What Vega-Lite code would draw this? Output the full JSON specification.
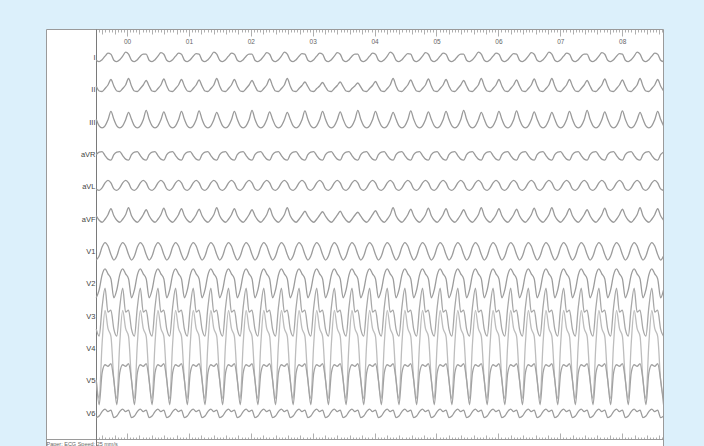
{
"$schema": "https://vega.github.io/schema/vega-lite/v6.json",
"autosize": "none",
"width": 617,
"height": 420,
"padding": {"left": 46, "top": 29, "right": 41, "bottom": 0},
"background": "#dcf0fb",
"config": {"view": {"fill": "white", "stroke": "#9a9a9a", "strokeWidth": 1}, "axis": {"labelFont": "Liberation Sans", "titleFont": "Liberation Sans"}},
"layer": [
{
"data": {"values": [
{"t":-0.4985,"I":-0.25,"II":0.4,"III":0.3,"aVR":0,"aVL":-0.2,"aVF":0.35,"V1":-0.85,"V2":-1.4,"V3":-1.3,"V4":-3.2,"V5":0.1,"V6":-0.45},
{"t":-0.451,"I":-0.4,"II":-0.1,"III":-0.35,"aVR":0.25,"aVL":-0.35,"aVF":-0.1,"V1":-0.45,"V2":-0.6,"V3":-2,"V4":-5,"V5":-2.4,"V6":-0.3},
{"t":-0.4035,"I":-0.2,"II":-0.15,"III":-0.55,"aVR":0.3,"aVL":-0.1,"aVF":-0.3,"V1":0.45,"V2":0.9,"V3":0.9,"V4":0.5,"V5":0.8,"V6":0.15},
{"t":-0.356,"I":0.15,"II":0.15,"III":-0.35,"aVR":-0.1,"aVL":0.4,"aVF":0,"V1":0.9,"V2":1.5,"V3":2.8,"V4":3.8,"V5":1.6,"V6":0.4},
{"t":-0.3085,"I":0.45,"II":0.5,"III":0.25,"aVR":-0.45,"aVL":0.65,"aVF":0.45,"V1":0.55,"V2":1,"V3":0.4,"V4":2,"V5":1.45,"V6":0.15},
{"t":-0.261,"I":0.35,"II":1.05,"III":1.1,"aVR":-0.55,"aVL":0.4,"aVF":1.05,"V1":-0.3,"V2":0.5,"V3":0.6,"V4":1.2,"V5":1.7,"V6":0.3},
{"t":-0.2135,"I":-0.25,"II":0.4,"III":0.3,"aVR":0,"aVL":-0.2,"aVF":0.35,"V1":-0.85,"V2":-1.4,"V3":-1.3,"V4":-3.2,"V5":0.1,"V6":-0.45},
{"t":-0.166,"I":-0.4,"II":-0.1,"III":-0.35,"aVR":0.25,"aVL":-0.35,"aVF":-0.1,"V1":-0.45,"V2":-0.6,"V3":-2,"V4":-5,"V5":-2.4,"V6":-0.3},
{"t":-0.1185,"I":-0.2,"II":-0.15,"III":-0.55,"aVR":0.3,"aVL":-0.1,"aVF":-0.3,"V1":0.45,"V2":0.9,"V3":0.9,"V4":0.5,"V5":0.8,"V6":0.15},
{"t":-0.071,"I":0.15,"II":0.15,"III":-0.35,"aVR":-0.1,"aVL":0.4,"aVF":0,"V1":0.9,"V2":1.5,"V3":2.8,"V4":3.8,"V5":1.6,"V6":0.4},
{"t":-0.0235,"I":0.55,"II":0.5,"III":0.25,"aVR":-0.45,"aVL":0.65,"aVF":0.45,"V1":0.55,"V2":1,"V3":0.4,"V4":2,"V5":1.45,"V6":0.15},
{"t":0.024,"I":0.35,"II":1.15,"III":1.0,"aVR":-0.55,"aVL":0.4,"aVF":1.15,"V1":-0.3,"V2":0.5,"V3":0.6,"V4":1.2,"V5":1.7,"V6":0.3},
{"t":0.0715,"I":-0.25,"II":0.4,"III":0.3,"aVR":0,"aVL":-0.2,"aVF":0.35,"V1":-0.85,"V2":-1.4,"V3":-1.3,"V4":-3.2,"V5":0.1,"V6":-0.45},
{"t":0.119,"I":-0.4,"II":-0.1,"III":-0.35,"aVR":0.25,"aVL":-0.35,"aVF":-0.1,"V1":-0.45,"V2":-0.6,"V3":-2,"V4":-5,"V5":-2.4,"V6":-0.3},
{"t":0.1665,"I":-0.2,"II":-0.15,"III":-0.55,"aVR":0.3,"aVL":-0.1,"aVF":-0.3,"V1":0.45,"V2":0.9,"V3":0.9,"V4":0.5,"V5":0.8,"V6":0.15},
{"t":0.214,"I":0.15,"II":0.15,"III":-0.35,"aVR":-0.1,"aVL":0.4,"aVF":0,"V1":0.9,"V2":1.5,"V3":2.8,"V4":3.8,"V5":1.6,"V6":0.4},
{"t":0.2615,"I":0.35,"II":0.5,"III":0.25,"aVR":-0.45,"aVL":0.65,"aVF":0.45,"V1":0.55,"V2":1,"V3":0.4,"V4":2,"V5":1.45,"V6":0.15},
{"t":0.309,"I":0.35,"II":0.95,"III":1.2,"aVR":-0.55,"aVL":0.4,"aVF":0.95,"V1":-0.3,"V2":0.5,"V3":0.6,"V4":1.2,"V5":1.7,"V6":0.3},
{"t":0.3565,"I":-0.25,"II":0.4,"III":0.3,"aVR":0,"aVL":-0.2,"aVF":0.35,"V1":-0.85,"V2":-1.4,"V3":-1.3,"V4":-3.2,"V5":0.1,"V6":-0.45},
{"t":0.404,"I":-0.4,"II":-0.1,"III":-0.35,"aVR":0.25,"aVL":-0.35,"aVF":-0.1,"V1":-0.45,"V2":-0.6,"V3":-2,"V4":-5,"V5":-2.4,"V6":-0.3},
{"t":0.4515,"I":-0.2,"II":-0.15,"III":-0.55,"aVR":0.3,"aVL":-0.1,"aVF":-0.3,"V1":0.45,"V2":0.9,"V3":0.9,"V4":0.5,"V5":0.8,"V6":0.15},
{"t":0.499,"I":0.15,"II":0.15,"III":-0.35,"aVR":-0.1,"aVL":0.4,"aVF":0,"V1":0.9,"V2":1.5,"V3":2.8,"V4":3.8,"V5":1.6,"V6":0.4},
{"t":0.5465,"I":0.5,"II":0.5,"III":0.25,"aVR":-0.45,"aVL":0.65,"aVF":0.45,"V1":0.55,"V2":1,"V3":0.4,"V4":2,"V5":1.45,"V6":0.15},
{"t":0.594,"I":0.35,"II":1.1,"III":1.05,"aVR":-0.55,"aVL":0.4,"aVF":1.1,"V1":-0.3,"V2":0.5,"V3":0.6,"V4":1.2,"V5":1.7,"V6":0.3},
{"t":0.6415,"I":-0.25,"II":0.4,"III":0.3,"aVR":0,"aVL":-0.2,"aVF":0.35,"V1":-0.85,"V2":-1.4,"V3":-1.3,"V4":-3.2,"V5":0.1,"V6":-0.45},
{"t":0.689,"I":-0.4,"II":-0.1,"III":-0.35,"aVR":0.25,"aVL":-0.35,"aVF":-0.1,"V1":-0.45,"V2":-0.6,"V3":-2,"V4":-5,"V5":-2.4,"V6":-0.3},
{"t":0.7365,"I":-0.2,"II":-0.15,"III":-0.55,"aVR":0.3,"aVL":-0.1,"aVF":-0.3,"V1":0.45,"V2":0.9,"V3":0.9,"V4":0.5,"V5":0.8,"V6":0.15},
{"t":0.784,"I":0.15,"II":0.15,"III":-0.35,"aVR":-0.1,"aVL":0.4,"aVF":0,"V1":0.9,"V2":1.5,"V3":2.8,"V4":3.8,"V5":1.6,"V6":0.4},
{"t":0.8315,"I":0.45,"II":0.5,"III":0.25,"aVR":-0.45,"aVL":0.65,"aVF":0.45,"V1":0.55,"V2":1,"V3":0.4,"V4":2,"V5":1.45,"V6":0.15},
{"t":0.879,"I":0.35,"II":1.05,"III":1.1,"aVR":-0.55,"aVL":0.4,"aVF":1.05,"V1":-0.3,"V2":0.5,"V3":0.6,"V4":1.2,"V5":1.7,"V6":0.3},
{"t":0.9265,"I":-0.25,"II":0.4,"III":0.3,"aVR":0,"aVL":-0.2,"aVF":0.35,"V1":-0.85,"V2":-1.4,"V3":-1.3,"V4":-3.2,"V5":0.1,"V6":-0.45},
{"t":0.974,"I":-0.4,"II":-0.1,"III":-0.35,"aVR":0.25,"aVL":-0.35,"aVF":-0.1,"V1":-0.45,"V2":-0.6,"V3":-2,"V4":-5,"V5":-2.4,"V6":-0.3},
{"t":1.0215,"I":-0.2,"II":-0.15,"III":-0.55,"aVR":0.3,"aVL":-0.1,"aVF":-0.3,"V1":0.45,"V2":0.9,"V3":0.9,"V4":0.5,"V5":0.8,"V6":0.15},
{"t":1.069,"I":0.15,"II":0.15,"III":-0.35,"aVR":-0.1,"aVL":0.4,"aVF":0,"V1":0.9,"V2":1.5,"V3":2.8,"V4":3.8,"V5":1.6,"V6":0.4},
{"t":1.1165,"I":0.4,"II":0.5,"III":0.25,"aVR":-0.45,"aVL":0.65,"aVF":0.45,"V1":0.55,"V2":1,"V3":0.4,"V4":2,"V5":1.45,"V6":0.15},
{"t":1.164,"I":0.35,"II":1.0,"III":1.15,"aVR":-0.55,"aVL":0.4,"aVF":1.0,"V1":-0.3,"V2":0.5,"V3":0.6,"V4":1.2,"V5":1.7,"V6":0.3},
{"t":1.2115,"I":-0.25,"II":0.4,"III":0.3,"aVR":0,"aVL":-0.2,"aVF":0.35,"V1":-0.85,"V2":-1.4,"V3":-1.3,"V4":-3.2,"V5":0.1,"V6":-0.45},
{"t":1.259,"I":-0.4,"II":-0.1,"III":-0.35,"aVR":0.25,"aVL":-0.35,"aVF":-0.1,"V1":-0.45,"V2":-0.6,"V3":-2,"V4":-5,"V5":-2.4,"V6":-0.3},
{"t":1.3065,"I":-0.2,"II":-0.15,"III":-0.55,"aVR":0.3,"aVL":-0.1,"aVF":-0.3,"V1":0.45,"V2":0.9,"V3":0.9,"V4":0.5,"V5":0.8,"V6":0.15},
{"t":1.354,"I":0.15,"II":0.15,"III":-0.35,"aVR":-0.1,"aVL":0.4,"aVF":0,"V1":0.9,"V2":1.5,"V3":2.8,"V4":3.8,"V5":1.6,"V6":0.4},
{"t":1.4015,"I":0.55,"II":0.5,"III":0.25,"aVR":-0.45,"aVL":0.65,"aVF":0.45,"V1":0.55,"V2":1,"V3":0.4,"V4":2,"V5":1.45,"V6":0.15},
{"t":1.449,"I":0.35,"II":1.15,"III":1.0,"aVR":-0.55,"aVL":0.4,"aVF":1.15,"V1":-0.3,"V2":0.5,"V3":0.6,"V4":1.2,"V5":1.7,"V6":0.3},
{"t":1.4965,"I":-0.25,"II":0.4,"III":0.3,"aVR":0,"aVL":-0.2,"aVF":0.35,"V1":-0.85,"V2":-1.4,"V3":-1.3,"V4":-3.2,"V5":0.1,"V6":-0.45},
{"t":1.544,"I":-0.4,"II":-0.1,"III":-0.35,"aVR":0.25,"aVL":-0.35,"aVF":-0.1,"V1":-0.45,"V2":-0.6,"V3":-2,"V4":-5,"V5":-2.4,"V6":-0.3},
{"t":1.5915,"I":-0.2,"II":-0.15,"III":-0.55,"aVR":0.3,"aVL":-0.1,"aVF":-0.3,"V1":0.45,"V2":0.9,"V3":0.9,"V4":0.5,"V5":0.8,"V6":0.15},
{"t":1.639,"I":0.15,"II":0.15,"III":-0.35,"aVR":-0.1,"aVL":0.4,"aVF":0,"V1":0.9,"V2":1.5,"V3":2.8,"V4":3.8,"V5":1.6,"V6":0.4},
{"t":1.6865,"I":0.45,"II":0.5,"III":0.25,"aVR":-0.45,"aVL":0.65,"aVF":0.45,"V1":0.55,"V2":1,"V3":0.4,"V4":2,"V5":1.45,"V6":0.15},
{"t":1.734,"I":0.35,"II":1.05,"III":1.1,"aVR":-0.55,"aVL":0.4,"aVF":1.05,"V1":-0.3,"V2":0.5,"V3":0.6,"V4":1.2,"V5":1.7,"V6":0.3},
{"t":1.7815,"I":-0.25,"II":0.4,"III":0.3,"aVR":0,"aVL":-0.2,"aVF":0.35,"V1":-0.85,"V2":-1.4,"V3":-1.3,"V4":-3.2,"V5":0.1,"V6":-0.45},
{"t":1.829,"I":-0.4,"II":-0.1,"III":-0.35,"aVR":0.25,"aVL":-0.35,"aVF":-0.1,"V1":-0.45,"V2":-0.6,"V3":-2,"V4":-5,"V5":-2.4,"V6":-0.3},
{"t":1.8765,"I":-0.2,"II":-0.15,"III":-0.55,"aVR":0.3,"aVL":-0.1,"aVF":-0.3,"V1":0.45,"V2":0.9,"V3":0.9,"V4":0.5,"V5":0.8,"V6":0.15},
{"t":1.924,"I":0.15,"II":0.15,"III":-0.35,"aVR":-0.1,"aVL":0.4,"aVF":0,"V1":0.9,"V2":1.5,"V3":2.8,"V4":3.8,"V5":1.6,"V6":0.4},
{"t":1.9715,"I":0.35,"II":0.5,"III":0.25,"aVR":-0.45,"aVL":0.65,"aVF":0.45,"V1":0.55,"V2":1,"V3":0.4,"V4":2,"V5":1.45,"V6":0.15},
{"t":2.019,"I":0.35,"II":0.95,"III":1.2,"aVR":-0.55,"aVL":0.4,"aVF":0.95,"V1":-0.3,"V2":0.5,"V3":0.6,"V4":1.2,"V5":1.7,"V6":0.3},
{"t":2.0665,"I":-0.25,"II":0.4,"III":0.3,"aVR":0,"aVL":-0.2,"aVF":0.35,"V1":-0.85,"V2":-1.4,"V3":-1.3,"V4":-3.2,"V5":0.1,"V6":-0.45},
{"t":2.114,"I":-0.4,"II":-0.1,"III":-0.35,"aVR":0.25,"aVL":-0.35,"aVF":-0.1,"V1":-0.45,"V2":-0.6,"V3":-2,"V4":-5,"V5":-2.4,"V6":-0.3},
{"t":2.1615,"I":-0.2,"II":-0.15,"III":-0.55,"aVR":0.3,"aVL":-0.1,"aVF":-0.3,"V1":0.45,"V2":0.9,"V3":0.9,"V4":0.5,"V5":0.8,"V6":0.15},
{"t":2.209,"I":0.15,"II":0.15,"III":-0.35,"aVR":-0.1,"aVL":0.4,"aVF":0,"V1":0.9,"V2":1.5,"V3":2.8,"V4":3.8,"V5":1.6,"V6":0.4},
{"t":2.2565,"I":0.5,"II":0.5,"III":0.25,"aVR":-0.45,"aVL":0.65,"aVF":0.45,"V1":0.55,"V2":1,"V3":0.4,"V4":2,"V5":1.45,"V6":0.15},
{"t":2.304,"I":0.35,"II":1.1,"III":1.05,"aVR":-0.55,"aVL":0.4,"aVF":1.1,"V1":-0.3,"V2":0.5,"V3":0.6,"V4":1.2,"V5":1.7,"V6":0.3},
{"t":2.3515,"I":-0.25,"II":0.4,"III":0.3,"aVR":0,"aVL":-0.2,"aVF":0.35,"V1":-0.85,"V2":-1.4,"V3":-1.3,"V4":-3.2,"V5":0.1,"V6":-0.45},
{"t":2.399,"I":-0.4,"II":-0.1,"III":-0.35,"aVR":0.25,"aVL":-0.35,"aVF":-0.1,"V1":-0.45,"V2":-0.6,"V3":-2,"V4":-5,"V5":-2.4,"V6":-0.3},
{"t":2.4465,"I":-0.2,"II":-0.15,"III":-0.55,"aVR":0.3,"aVL":-0.1,"aVF":-0.3,"V1":0.45,"V2":0.9,"V3":0.9,"V4":0.5,"V5":0.8,"V6":0.15},
{"t":2.494,"I":0.15,"II":0.15,"III":-0.35,"aVR":-0.1,"aVL":0.4,"aVF":0,"V1":0.9,"V2":1.5,"V3":2.8,"V4":3.8,"V5":1.6,"V6":0.4},
{"t":2.5415,"I":0.55,"II":0.5,"III":0.25,"aVR":-0.45,"aVL":0.65,"aVF":0.45,"V1":0.55,"V2":1,"V3":0.4,"V4":2,"V5":1.45,"V6":0.15},
{"t":2.589,"I":0.35,"II":1.15,"III":1.0,"aVR":-0.55,"aVL":0.4,"aVF":1.15,"V1":-0.3,"V2":0.5,"V3":0.6,"V4":1.2,"V5":1.7,"V6":0.3},
{"t":2.6365,"I":-0.25,"II":0.4,"III":0.3,"aVR":0,"aVL":-0.2,"aVF":0.35,"V1":-0.85,"V2":-1.4,"V3":-1.3,"V4":-3.2,"V5":0.1,"V6":-0.45},
{"t":2.684,"I":-0.4,"II":-0.1,"III":-0.35,"aVR":0.25,"aVL":-0.35,"aVF":-0.1,"V1":-0.45,"V2":-0.6,"V3":-2,"V4":-5,"V5":-2.4,"V6":-0.3},
{"t":2.7315,"I":-0.2,"II":-0.15,"III":-0.55,"aVR":0.3,"aVL":-0.1,"aVF":-0.3,"V1":0.45,"V2":0.9,"V3":0.9,"V4":0.5,"V5":0.8,"V6":0.15},
{"t":2.779,"I":0.15,"II":0.15,"III":-0.35,"aVR":-0.1,"aVL":0.4,"aVF":0,"V1":0.9,"V2":1.5,"V3":2.8,"V4":3.8,"V5":1.6,"V6":0.4},
{"t":2.8265,"I":0.4,"II":0.45,"III":0.25,"aVR":-0.45,"aVL":0.65,"aVF":0.4,"V1":0.55,"V2":1,"V3":0.4,"V4":2,"V5":1.45,"V6":0.15},
{"t":2.874,"I":0.35,"II":0.8,"III":1.15,"aVR":-0.55,"aVL":0.4,"aVF":0.8,"V1":-0.3,"V2":0.5,"V3":0.6,"V4":1.2,"V5":1.7,"V6":0.3},
{"t":2.9215,"I":-0.25,"II":0.35,"III":0.3,"aVR":0,"aVL":-0.2,"aVF":0.3,"V1":-0.85,"V2":-1.4,"V3":-1.3,"V4":-3.2,"V5":0.1,"V6":-0.45},
{"t":2.969,"I":-0.4,"II":-0.1,"III":-0.35,"aVR":0.25,"aVL":-0.35,"aVF":-0.1,"V1":-0.45,"V2":-0.6,"V3":-2,"V4":-5,"V5":-2.4,"V6":-0.3},
{"t":3.0165,"I":-0.2,"II":-0.15,"III":-0.55,"aVR":0.3,"aVL":-0.1,"aVF":-0.3,"V1":0.45,"V2":0.9,"V3":0.9,"V4":0.5,"V5":0.8,"V6":0.15},
{"t":3.064,"I":0.15,"II":0.15,"III":-0.35,"aVR":-0.1,"aVL":0.4,"aVF":0,"V1":0.9,"V2":1.5,"V3":2.8,"V4":3.8,"V5":1.6,"V6":0.4},
{"t":3.1115,"I":0.45,"II":0.4,"III":0.25,"aVR":-0.45,"aVL":0.65,"aVF":0.4,"V1":0.55,"V2":1,"V3":0.4,"V4":2,"V5":1.45,"V6":0.15},
{"t":3.159,"I":0.35,"II":0.75,"III":1.1,"aVR":-0.55,"aVL":0.4,"aVF":0.75,"V1":-0.3,"V2":0.5,"V3":0.6,"V4":1.2,"V5":1.7,"V6":0.3},
{"t":3.2065,"I":-0.25,"II":0.3,"III":0.3,"aVR":0,"aVL":-0.2,"aVF":0.3,"V1":-0.85,"V2":-1.4,"V3":-1.3,"V4":-3.2,"V5":0.1,"V6":-0.45},
{"t":3.254,"I":-0.4,"II":-0.1,"III":-0.35,"aVR":0.25,"aVL":-0.35,"aVF":-0.1,"V1":-0.45,"V2":-0.6,"V3":-2,"V4":-5,"V5":-2.4,"V6":-0.3},
{"t":3.3015,"I":-0.2,"II":-0.15,"III":-0.55,"aVR":0.3,"aVL":-0.1,"aVF":-0.3,"V1":0.45,"V2":0.9,"V3":0.9,"V4":0.5,"V5":0.8,"V6":0.15},
{"t":3.349,"I":0.15,"II":0.15,"III":-0.35,"aVR":-0.1,"aVL":0.4,"aVF":0,"V1":0.9,"V2":1.5,"V3":2.8,"V4":3.8,"V5":1.6,"V6":0.4},
{"t":3.3965,"I":0.5,"II":0.45,"III":0.25,"aVR":-0.45,"aVL":0.65,"aVF":0.4,"V1":0.55,"V2":1,"V3":0.4,"V4":2,"V5":1.45,"V6":0.15},
{"t":3.444,"I":0.35,"II":0.8,"III":1.05,"aVR":-0.55,"aVL":0.4,"aVF":0.8,"V1":-0.3,"V2":0.5,"V3":0.6,"V4":1.2,"V5":1.7,"V6":0.3},
{"t":3.4915,"I":-0.25,"II":0.35,"III":0.3,"aVR":0,"aVL":-0.2,"aVF":0.3,"V1":-0.85,"V2":-1.4,"V3":-1.3,"V4":-3.2,"V5":0.1,"V6":-0.45},
{"t":3.539,"I":-0.4,"II":-0.1,"III":-0.35,"aVR":0.25,"aVL":-0.35,"aVF":-0.1,"V1":-0.45,"V2":-0.6,"V3":-2,"V4":-5,"V5":-2.4,"V6":-0.3},
{"t":3.5865,"I":-0.2,"II":-0.15,"III":-0.55,"aVR":0.3,"aVL":-0.1,"aVF":-0.3,"V1":0.45,"V2":0.9,"V3":0.9,"V4":0.5,"V5":0.8,"V6":0.15},
{"t":3.634,"I":0.15,"II":0.15,"III":-0.35,"aVR":-0.1,"aVL":0.4,"aVF":0,"V1":0.9,"V2":1.5,"V3":2.8,"V4":3.8,"V5":1.6,"V6":0.4},
{"t":3.6815,"I":0.35,"II":0.4,"III":0.25,"aVR":-0.45,"aVL":0.65,"aVF":0.4,"V1":0.55,"V2":1,"V3":0.4,"V4":2,"V5":1.45,"V6":0.15},
{"t":3.729,"I":0.35,"II":0.7,"III":1.2,"aVR":-0.55,"aVL":0.4,"aVF":0.7,"V1":-0.3,"V2":0.5,"V3":0.6,"V4":1.2,"V5":1.7,"V6":0.3},
{"t":3.7765,"I":-0.25,"II":0.3,"III":0.3,"aVR":0,"aVL":-0.2,"aVF":0.3,"V1":-0.85,"V2":-1.4,"V3":-1.3,"V4":-3.2,"V5":0.1,"V6":-0.45},
{"t":3.824,"I":-0.4,"II":-0.1,"III":-0.35,"aVR":0.25,"aVL":-0.35,"aVF":-0.1,"V1":-0.45,"V2":-0.6,"V3":-2,"V4":-5,"V5":-2.4,"V6":-0.3},
{"t":3.8715,"I":-0.2,"II":-0.15,"III":-0.55,"aVR":0.3,"aVL":-0.1,"aVF":-0.3,"V1":0.45,"V2":0.9,"V3":0.9,"V4":0.5,"V5":0.8,"V6":0.15},
{"t":3.919,"I":0.15,"II":0.15,"III":-0.35,"aVR":-0.1,"aVL":0.4,"aVF":0,"V1":0.9,"V2":1.5,"V3":2.8,"V4":3.8,"V5":1.6,"V6":0.4},
{"t":3.9665,"I":0.45,"II":0.45,"III":0.25,"aVR":-0.45,"aVL":0.65,"aVF":0.45,"V1":0.55,"V2":1,"V3":0.4,"V4":2,"V5":1.45,"V6":0.15},
{"t":4.014,"I":0.35,"II":0.85,"III":1.1,"aVR":-0.55,"aVL":0.4,"aVF":0.85,"V1":-0.3,"V2":0.5,"V3":0.6,"V4":1.2,"V5":1.7,"V6":0.3},
{"t":4.0615,"I":-0.25,"II":0.35,"III":0.3,"aVR":0,"aVL":-0.2,"aVF":0.35,"V1":-0.85,"V2":-1.4,"V3":-1.3,"V4":-3.2,"V5":0.1,"V6":-0.45},
{"t":4.109,"I":-0.4,"II":-0.1,"III":-0.35,"aVR":0.25,"aVL":-0.35,"aVF":-0.1,"V1":-0.45,"V2":-0.6,"V3":-2,"V4":-5,"V5":-2.4,"V6":-0.3},
{"t":4.1565,"I":-0.2,"II":-0.15,"III":-0.55,"aVR":0.3,"aVL":-0.1,"aVF":-0.3,"V1":0.45,"V2":0.9,"V3":0.9,"V4":0.5,"V5":0.8,"V6":0.15},
{"t":4.204,"I":0.15,"II":0.15,"III":-0.35,"aVR":-0.1,"aVL":0.4,"aVF":0,"V1":0.9,"V2":1.5,"V3":2.8,"V4":3.8,"V5":1.6,"V6":0.4},
{"t":4.2515,"I":0.55,"II":0.5,"III":0.25,"aVR":-0.45,"aVL":0.65,"aVF":0.45,"V1":0.55,"V2":1,"V3":0.4,"V4":2,"V5":1.45,"V6":0.15},
{"t":4.299,"I":0.35,"II":1.15,"III":1.0,"aVR":-0.55,"aVL":0.4,"aVF":1.15,"V1":-0.3,"V2":0.5,"V3":0.6,"V4":1.2,"V5":1.7,"V6":0.3},
{"t":4.3465,"I":-0.25,"II":0.4,"III":0.3,"aVR":0,"aVL":-0.2,"aVF":0.35,"V1":-0.85,"V2":-1.4,"V3":-1.3,"V4":-3.2,"V5":0.1,"V6":-0.45},
{"t":4.394,"I":-0.4,"II":-0.1,"III":-0.35,"aVR":0.25,"aVL":-0.35,"aVF":-0.1,"V1":-0.45,"V2":-0.6,"V3":-2,"V4":-5,"V5":-2.4,"V6":-0.3},
{"t":4.4415,"I":-0.2,"II":-0.15,"III":-0.55,"aVR":0.3,"aVL":-0.1,"aVF":-0.3,"V1":0.45,"V2":0.9,"V3":0.9,"V4":0.5,"V5":0.8,"V6":0.15},
{"t":4.489,"I":0.15,"II":0.15,"III":-0.35,"aVR":-0.1,"aVL":0.4,"aVF":0,"V1":0.9,"V2":1.5,"V3":2.8,"V4":3.8,"V5":1.6,"V6":0.4},
{"t":4.5365,"I":0.4,"II":0.5,"III":0.25,"aVR":-0.45,"aVL":0.65,"aVF":0.45,"V1":0.55,"V2":1,"V3":0.4,"V4":2,"V5":1.45,"V6":0.15},
{"t":4.584,"I":0.35,"II":1.0,"III":1.15,"aVR":-0.55,"aVL":0.4,"aVF":1.0,"V1":-0.3,"V2":0.5,"V3":0.6,"V4":1.2,"V5":1.7,"V6":0.3},
{"t":4.6315,"I":-0.25,"II":0.4,"III":0.3,"aVR":0,"aVL":-0.2,"aVF":0.35,"V1":-0.85,"V2":-1.4,"V3":-1.3,"V4":-3.2,"V5":0.1,"V6":-0.45},
{"t":4.679,"I":-0.4,"II":-0.1,"III":-0.35,"aVR":0.25,"aVL":-0.35,"aVF":-0.1,"V1":-0.45,"V2":-0.6,"V3":-2,"V4":-5,"V5":-2.4,"V6":-0.3},
{"t":4.7265,"I":-0.2,"II":-0.15,"III":-0.55,"aVR":0.3,"aVL":-0.1,"aVF":-0.3,"V1":0.45,"V2":0.9,"V3":0.9,"V4":0.5,"V5":0.8,"V6":0.15},
{"t":4.774,"I":0.15,"II":0.15,"III":-0.35,"aVR":-0.1,"aVL":0.4,"aVF":0,"V1":0.9,"V2":1.5,"V3":2.8,"V4":3.8,"V5":1.6,"V6":0.4},
{"t":4.8215,"I":0.5,"II":0.5,"III":0.25,"aVR":-0.45,"aVL":0.65,"aVF":0.45,"V1":0.55,"V2":1,"V3":0.4,"V4":2,"V5":1.45,"V6":0.15},
{"t":4.869,"I":0.35,"II":1.1,"III":1.05,"aVR":-0.55,"aVL":0.4,"aVF":1.1,"V1":-0.3,"V2":0.5,"V3":0.6,"V4":1.2,"V5":1.7,"V6":0.3},
{"t":4.9165,"I":-0.25,"II":0.4,"III":0.3,"aVR":0,"aVL":-0.2,"aVF":0.35,"V1":-0.85,"V2":-1.4,"V3":-1.3,"V4":-3.2,"V5":0.1,"V6":-0.45},
{"t":4.964,"I":-0.4,"II":-0.1,"III":-0.35,"aVR":0.25,"aVL":-0.35,"aVF":-0.1,"V1":-0.45,"V2":-0.6,"V3":-2,"V4":-5,"V5":-2.4,"V6":-0.3},
{"t":5.0115,"I":-0.2,"II":-0.15,"III":-0.55,"aVR":0.3,"aVL":-0.1,"aVF":-0.3,"V1":0.45,"V2":0.9,"V3":0.9,"V4":0.5,"V5":0.8,"V6":0.15},
{"t":5.059,"I":0.15,"II":0.15,"III":-0.35,"aVR":-0.1,"aVL":0.4,"aVF":0,"V1":0.9,"V2":1.5,"V3":2.8,"V4":3.8,"V5":1.6,"V6":0.4},
{"t":5.1065,"I":0.45,"II":0.5,"III":0.25,"aVR":-0.45,"aVL":0.65,"aVF":0.45,"V1":0.55,"V2":1,"V3":0.4,"V4":2,"V5":1.45,"V6":0.15},
{"t":5.154,"I":0.35,"II":1.05,"III":1.1,"aVR":-0.55,"aVL":0.4,"aVF":1.05,"V1":-0.3,"V2":0.5,"V3":0.6,"V4":1.2,"V5":1.7,"V6":0.3},
{"t":5.2015,"I":-0.25,"II":0.4,"III":0.3,"aVR":0,"aVL":-0.2,"aVF":0.35,"V1":-0.85,"V2":-1.4,"V3":-1.3,"V4":-3.2,"V5":0.1,"V6":-0.45},
{"t":5.249,"I":-0.4,"II":-0.1,"III":-0.35,"aVR":0.25,"aVL":-0.35,"aVF":-0.1,"V1":-0.45,"V2":-0.6,"V3":-2,"V4":-5,"V5":-2.4,"V6":-0.3},
{"t":5.2965,"I":-0.2,"II":-0.15,"III":-0.55,"aVR":0.3,"aVL":-0.1,"aVF":-0.3,"V1":0.45,"V2":0.9,"V3":0.9,"V4":0.5,"V5":0.8,"V6":0.15},
{"t":5.344,"I":0.15,"II":0.15,"III":-0.35,"aVR":-0.1,"aVL":0.4,"aVF":0,"V1":0.9,"V2":1.5,"V3":2.8,"V4":3.8,"V5":1.6,"V6":0.4},
{"t":5.3915,"I":0.35,"II":0.5,"III":0.25,"aVR":-0.45,"aVL":0.65,"aVF":0.45,"V1":0.55,"V2":1,"V3":0.4,"V4":2,"V5":1.45,"V6":0.15},
{"t":5.439,"I":0.35,"II":0.95,"III":1.2,"aVR":-0.55,"aVL":0.4,"aVF":0.95,"V1":-0.3,"V2":0.5,"V3":0.6,"V4":1.2,"V5":1.7,"V6":0.3},
{"t":5.4865,"I":-0.25,"II":0.4,"III":0.3,"aVR":0,"aVL":-0.2,"aVF":0.35,"V1":-0.85,"V2":-1.4,"V3":-1.3,"V4":-3.2,"V5":0.1,"V6":-0.45},
{"t":5.534,"I":-0.4,"II":-0.1,"III":-0.35,"aVR":0.25,"aVL":-0.35,"aVF":-0.1,"V1":-0.45,"V2":-0.6,"V3":-2,"V4":-5,"V5":-2.4,"V6":-0.3},
{"t":5.5815,"I":-0.2,"II":-0.15,"III":-0.55,"aVR":0.3,"aVL":-0.1,"aVF":-0.3,"V1":0.45,"V2":0.9,"V3":0.9,"V4":0.5,"V5":0.8,"V6":0.15},
{"t":5.629,"I":0.15,"II":0.15,"III":-0.35,"aVR":-0.1,"aVL":0.4,"aVF":0,"V1":0.9,"V2":1.5,"V3":2.8,"V4":3.8,"V5":1.6,"V6":0.4},
{"t":5.6765,"I":0.55,"II":0.5,"III":0.25,"aVR":-0.45,"aVL":0.65,"aVF":0.45,"V1":0.55,"V2":1,"V3":0.4,"V4":2,"V5":1.45,"V6":0.15},
{"t":5.724,"I":0.35,"II":1.15,"III":1.0,"aVR":-0.55,"aVL":0.4,"aVF":1.15,"V1":-0.3,"V2":0.5,"V3":0.6,"V4":1.2,"V5":1.7,"V6":0.3},
{"t":5.7715,"I":-0.25,"II":0.4,"III":0.3,"aVR":0,"aVL":-0.2,"aVF":0.35,"V1":-0.85,"V2":-1.4,"V3":-1.3,"V4":-3.2,"V5":0.1,"V6":-0.45},
{"t":5.819,"I":-0.4,"II":-0.1,"III":-0.35,"aVR":0.25,"aVL":-0.35,"aVF":-0.1,"V1":-0.45,"V2":-0.6,"V3":-2,"V4":-5,"V5":-2.4,"V6":-0.3},
{"t":5.8665,"I":-0.2,"II":-0.15,"III":-0.55,"aVR":0.3,"aVL":-0.1,"aVF":-0.3,"V1":0.45,"V2":0.9,"V3":0.9,"V4":0.5,"V5":0.8,"V6":0.15},
{"t":5.914,"I":0.15,"II":0.15,"III":-0.35,"aVR":-0.1,"aVL":0.4,"aVF":0,"V1":0.9,"V2":1.5,"V3":2.8,"V4":3.8,"V5":1.6,"V6":0.4},
{"t":5.9615,"I":0.45,"II":0.5,"III":0.25,"aVR":-0.45,"aVL":0.65,"aVF":0.45,"V1":0.55,"V2":1,"V3":0.4,"V4":2,"V5":1.45,"V6":0.15},
{"t":6.009,"I":0.35,"II":1.05,"III":1.1,"aVR":-0.55,"aVL":0.4,"aVF":1.05,"V1":-0.3,"V2":0.5,"V3":0.6,"V4":1.2,"V5":1.7,"V6":0.3},
{"t":6.0565,"I":-0.25,"II":0.4,"III":0.3,"aVR":0,"aVL":-0.2,"aVF":0.35,"V1":-0.85,"V2":-1.4,"V3":-1.3,"V4":-3.2,"V5":0.1,"V6":-0.45},
{"t":6.104,"I":-0.4,"II":-0.1,"III":-0.35,"aVR":0.25,"aVL":-0.35,"aVF":-0.1,"V1":-0.45,"V2":-0.6,"V3":-2,"V4":-5,"V5":-2.4,"V6":-0.3},
{"t":6.1515,"I":-0.2,"II":-0.15,"III":-0.55,"aVR":0.3,"aVL":-0.1,"aVF":-0.3,"V1":0.45,"V2":0.9,"V3":0.9,"V4":0.5,"V5":0.8,"V6":0.15},
{"t":6.199,"I":0.15,"II":0.15,"III":-0.35,"aVR":-0.1,"aVL":0.4,"aVF":0,"V1":0.9,"V2":1.5,"V3":2.8,"V4":3.8,"V5":1.6,"V6":0.4},
{"t":6.2465,"I":0.4,"II":0.5,"III":0.25,"aVR":-0.45,"aVL":0.65,"aVF":0.45,"V1":0.55,"V2":1,"V3":0.4,"V4":2,"V5":1.45,"V6":0.15},
{"t":6.294,"I":0.35,"II":1.0,"III":1.15,"aVR":-0.55,"aVL":0.4,"aVF":1.0,"V1":-0.3,"V2":0.5,"V3":0.6,"V4":1.2,"V5":1.7,"V6":0.3},
{"t":6.3415,"I":-0.25,"II":0.4,"III":0.3,"aVR":0,"aVL":-0.2,"aVF":0.35,"V1":-0.85,"V2":-1.4,"V3":-1.3,"V4":-3.2,"V5":0.1,"V6":-0.45},
{"t":6.389,"I":-0.4,"II":-0.1,"III":-0.35,"aVR":0.25,"aVL":-0.35,"aVF":-0.1,"V1":-0.45,"V2":-0.6,"V3":-2,"V4":-5,"V5":-2.4,"V6":-0.3},
{"t":6.4365,"I":-0.2,"II":-0.15,"III":-0.55,"aVR":0.3,"aVL":-0.1,"aVF":-0.3,"V1":0.45,"V2":0.9,"V3":0.9,"V4":0.5,"V5":0.8,"V6":0.15},
{"t":6.484,"I":0.15,"II":0.15,"III":-0.35,"aVR":-0.1,"aVL":0.4,"aVF":0,"V1":0.9,"V2":1.5,"V3":2.8,"V4":3.8,"V5":1.6,"V6":0.4},
{"t":6.5315,"I":0.5,"II":0.5,"III":0.25,"aVR":-0.45,"aVL":0.65,"aVF":0.45,"V1":0.55,"V2":1,"V3":0.4,"V4":2,"V5":1.45,"V6":0.15},
{"t":6.579,"I":0.35,"II":1.1,"III":1.05,"aVR":-0.55,"aVL":0.4,"aVF":1.1,"V1":-0.3,"V2":0.5,"V3":0.6,"V4":1.2,"V5":1.7,"V6":0.3},
{"t":6.6265,"I":-0.25,"II":0.4,"III":0.3,"aVR":0,"aVL":-0.2,"aVF":0.35,"V1":-0.85,"V2":-1.4,"V3":-1.3,"V4":-3.2,"V5":0.1,"V6":-0.45},
{"t":6.674,"I":-0.4,"II":-0.1,"III":-0.35,"aVR":0.25,"aVL":-0.35,"aVF":-0.1,"V1":-0.45,"V2":-0.6,"V3":-2,"V4":-5,"V5":-2.4,"V6":-0.3},
{"t":6.7215,"I":-0.2,"II":-0.15,"III":-0.55,"aVR":0.3,"aVL":-0.1,"aVF":-0.3,"V1":0.45,"V2":0.9,"V3":0.9,"V4":0.5,"V5":0.8,"V6":0.15},
{"t":6.769,"I":0.15,"II":0.15,"III":-0.35,"aVR":-0.1,"aVL":0.4,"aVF":0,"V1":0.9,"V2":1.5,"V3":2.8,"V4":3.8,"V5":1.6,"V6":0.4},
{"t":6.8165,"I":0.55,"II":0.5,"III":0.25,"aVR":-0.45,"aVL":0.65,"aVF":0.45,"V1":0.55,"V2":1,"V3":0.4,"V4":2,"V5":1.45,"V6":0.15},
{"t":6.864,"I":0.35,"II":1.15,"III":1.0,"aVR":-0.55,"aVL":0.4,"aVF":1.15,"V1":-0.3,"V2":0.5,"V3":0.6,"V4":1.2,"V5":1.7,"V6":0.3},
{"t":6.9115,"I":-0.25,"II":0.4,"III":0.3,"aVR":0,"aVL":-0.2,"aVF":0.35,"V1":-0.85,"V2":-1.4,"V3":-1.3,"V4":-3.2,"V5":0.1,"V6":-0.45},
{"t":6.959,"I":-0.4,"II":-0.1,"III":-0.35,"aVR":0.25,"aVL":-0.35,"aVF":-0.1,"V1":-0.45,"V2":-0.6,"V3":-2,"V4":-5,"V5":-2.4,"V6":-0.3},
{"t":7.0065,"I":-0.2,"II":-0.15,"III":-0.55,"aVR":0.3,"aVL":-0.1,"aVF":-0.3,"V1":0.45,"V2":0.9,"V3":0.9,"V4":0.5,"V5":0.8,"V6":0.15},
{"t":7.054,"I":0.15,"II":0.15,"III":-0.35,"aVR":-0.1,"aVL":0.4,"aVF":0,"V1":0.9,"V2":1.5,"V3":2.8,"V4":3.8,"V5":1.6,"V6":0.4},
{"t":7.1015,"I":0.45,"II":0.5,"III":0.25,"aVR":-0.45,"aVL":0.65,"aVF":0.45,"V1":0.55,"V2":1,"V3":0.4,"V4":2,"V5":1.45,"V6":0.15},
{"t":7.149,"I":0.35,"II":1.05,"III":1.1,"aVR":-0.55,"aVL":0.4,"aVF":1.05,"V1":-0.3,"V2":0.5,"V3":0.6,"V4":1.2,"V5":1.7,"V6":0.3},
{"t":7.1965,"I":-0.25,"II":0.4,"III":0.3,"aVR":0,"aVL":-0.2,"aVF":0.35,"V1":-0.85,"V2":-1.4,"V3":-1.3,"V4":-3.2,"V5":0.1,"V6":-0.45},
{"t":7.244,"I":-0.4,"II":-0.1,"III":-0.35,"aVR":0.25,"aVL":-0.35,"aVF":-0.1,"V1":-0.45,"V2":-0.6,"V3":-2,"V4":-5,"V5":-2.4,"V6":-0.3},
{"t":7.2915,"I":-0.2,"II":-0.15,"III":-0.55,"aVR":0.3,"aVL":-0.1,"aVF":-0.3,"V1":0.45,"V2":0.9,"V3":0.9,"V4":0.5,"V5":0.8,"V6":0.15},
{"t":7.339,"I":0.15,"II":0.15,"III":-0.35,"aVR":-0.1,"aVL":0.4,"aVF":0,"V1":0.9,"V2":1.5,"V3":2.8,"V4":3.8,"V5":1.6,"V6":0.4},
{"t":7.3865,"I":0.35,"II":0.5,"III":0.25,"aVR":-0.45,"aVL":0.65,"aVF":0.45,"V1":0.55,"V2":1,"V3":0.4,"V4":2,"V5":1.45,"V6":0.15},
{"t":7.434,"I":0.35,"II":0.95,"III":1.2,"aVR":-0.55,"aVL":0.4,"aVF":0.95,"V1":-0.3,"V2":0.5,"V3":0.6,"V4":1.2,"V5":1.7,"V6":0.3},
{"t":7.4815,"I":-0.25,"II":0.4,"III":0.3,"aVR":0,"aVL":-0.2,"aVF":0.35,"V1":-0.85,"V2":-1.4,"V3":-1.3,"V4":-3.2,"V5":0.1,"V6":-0.45},
{"t":7.529,"I":-0.4,"II":-0.1,"III":-0.35,"aVR":0.25,"aVL":-0.35,"aVF":-0.1,"V1":-0.45,"V2":-0.6,"V3":-2,"V4":-5,"V5":-2.4,"V6":-0.3},
{"t":7.5765,"I":-0.2,"II":-0.15,"III":-0.55,"aVR":0.3,"aVL":-0.1,"aVF":-0.3,"V1":0.45,"V2":0.9,"V3":0.9,"V4":0.5,"V5":0.8,"V6":0.15},
{"t":7.624,"I":0.15,"II":0.15,"III":-0.35,"aVR":-0.1,"aVL":0.4,"aVF":0,"V1":0.9,"V2":1.5,"V3":2.8,"V4":3.8,"V5":1.6,"V6":0.4},
{"t":7.6715,"I":0.5,"II":0.5,"III":0.25,"aVR":-0.45,"aVL":0.65,"aVF":0.45,"V1":0.55,"V2":1,"V3":0.4,"V4":2,"V5":1.45,"V6":0.15},
{"t":7.719,"I":0.35,"II":1.1,"III":1.05,"aVR":-0.55,"aVL":0.4,"aVF":1.1,"V1":-0.3,"V2":0.5,"V3":0.6,"V4":1.2,"V5":1.7,"V6":0.3},
{"t":7.7665,"I":-0.25,"II":0.4,"III":0.3,"aVR":0,"aVL":-0.2,"aVF":0.35,"V1":-0.85,"V2":-1.4,"V3":-1.3,"V4":-3.2,"V5":0.1,"V6":-0.45},
{"t":7.814,"I":-0.4,"II":-0.1,"III":-0.35,"aVR":0.25,"aVL":-0.35,"aVF":-0.1,"V1":-0.45,"V2":-0.6,"V3":-2,"V4":-5,"V5":-2.4,"V6":-0.3},
{"t":7.8615,"I":-0.2,"II":-0.15,"III":-0.55,"aVR":0.3,"aVL":-0.1,"aVF":-0.3,"V1":0.45,"V2":0.9,"V3":0.9,"V4":0.5,"V5":0.8,"V6":0.15},
{"t":7.909,"I":0.15,"II":0.15,"III":-0.35,"aVR":-0.1,"aVL":0.4,"aVF":0,"V1":0.9,"V2":1.5,"V3":2.8,"V4":3.8,"V5":1.6,"V6":0.4},
{"t":7.9565,"I":0.4,"II":0.5,"III":0.25,"aVR":-0.45,"aVL":0.65,"aVF":0.45,"V1":0.55,"V2":1,"V3":0.4,"V4":2,"V5":1.45,"V6":0.15},
{"t":8.004,"I":0.35,"II":1.0,"III":1.15,"aVR":-0.55,"aVL":0.4,"aVF":1.0,"V1":-0.3,"V2":0.5,"V3":0.6,"V4":1.2,"V5":1.7,"V6":0.3},
{"t":8.0515,"I":-0.25,"II":0.4,"III":0.3,"aVR":0,"aVL":-0.2,"aVF":0.35,"V1":-0.85,"V2":-1.4,"V3":-1.3,"V4":-3.2,"V5":0.1,"V6":-0.45},
{"t":8.099,"I":-0.4,"II":-0.1,"III":-0.35,"aVR":0.25,"aVL":-0.35,"aVF":-0.1,"V1":-0.45,"V2":-0.6,"V3":-2,"V4":-5,"V5":-2.4,"V6":-0.3},
{"t":8.1465,"I":-0.2,"II":-0.15,"III":-0.55,"aVR":0.3,"aVL":-0.1,"aVF":-0.3,"V1":0.45,"V2":0.9,"V3":0.9,"V4":0.5,"V5":0.8,"V6":0.15},
{"t":8.194,"I":0.15,"II":0.15,"III":-0.35,"aVR":-0.1,"aVL":0.4,"aVF":0,"V1":0.9,"V2":1.5,"V3":2.8,"V4":3.8,"V5":1.6,"V6":0.4},
{"t":8.2415,"I":0.55,"II":0.5,"III":0.25,"aVR":-0.45,"aVL":0.65,"aVF":0.45,"V1":0.55,"V2":1,"V3":0.4,"V4":2,"V5":1.45,"V6":0.15},
{"t":8.289,"I":0.35,"II":1.15,"III":1.0,"aVR":-0.55,"aVL":0.4,"aVF":1.15,"V1":-0.3,"V2":0.5,"V3":0.6,"V4":1.2,"V5":1.7,"V6":0.3},
{"t":8.3365,"I":-0.25,"II":0.4,"III":0.3,"aVR":0,"aVL":-0.2,"aVF":0.35,"V1":-0.85,"V2":-1.4,"V3":-1.3,"V4":-3.2,"V5":0.1,"V6":-0.45},
{"t":8.384,"I":-0.4,"II":-0.1,"III":-0.35,"aVR":0.25,"aVL":-0.35,"aVF":-0.1,"V1":-0.45,"V2":-0.6,"V3":-2,"V4":-5,"V5":-2.4,"V6":-0.3},
{"t":8.4315,"I":-0.2,"II":-0.15,"III":-0.55,"aVR":0.3,"aVL":-0.1,"aVF":-0.3,"V1":0.45,"V2":0.9,"V3":0.9,"V4":0.5,"V5":0.8,"V6":0.15},
{"t":8.479,"I":0.15,"II":0.15,"III":-0.35,"aVR":-0.1,"aVL":0.4,"aVF":0,"V1":0.9,"V2":1.5,"V3":2.8,"V4":3.8,"V5":1.6,"V6":0.4},
{"t":8.5265,"I":0.45,"II":0.5,"III":0.25,"aVR":-0.45,"aVL":0.65,"aVF":0.45,"V1":0.55,"V2":1,"V3":0.4,"V4":2,"V5":1.45,"V6":0.15},
{"t":8.574,"I":0.35,"II":1.05,"III":1.1,"aVR":-0.55,"aVL":0.4,"aVF":1.05,"V1":-0.3,"V2":0.5,"V3":0.6,"V4":1.2,"V5":1.7,"V6":0.3},
{"t":8.6215,"I":-0.25,"II":0.4,"III":0.3,"aVR":0,"aVL":-0.2,"aVF":0.35,"V1":-0.85,"V2":-1.4,"V3":-1.3,"V4":-3.2,"V5":0.1,"V6":-0.45},
{"t":8.669,"I":-0.4,"II":-0.1,"III":-0.35,"aVR":0.25,"aVL":-0.35,"aVF":-0.1,"V1":-0.45,"V2":-0.6,"V3":-2,"V4":-5,"V5":-2.4,"V6":-0.3}
]},
"transform": [{"fold": ["I","II","III","aVR","aVL","aVF","V1","V2","V3","V4","V5","V6"], "as": ["lead","v"]}],
"mark": {"type": "line", "interpolate": "monotone", "strokeWidth": 1.3, "clip": true},
"encoding": {
"x": {"field": "t", "type": "quantitative", "scale": {"domain": [-1.31, 8.66], "nice": false, "zero": false},
"axis": {"orient": "top", "tickCount": 200, "labels": false, "domain": false, "grid": false, "title": null, "tickColor": "#9a9a9a", "tickWidth": 0.8,
"tickSize": {"condition": [{"test": "datum.value < -0.52", "value": 0}, {"test": "abs(datum.value - round(datum.value)) < 0.001", "value": -7}, {"test": "abs(datum.value*5 - round(datum.value*5)) < 0.001", "value": -5}], "value": -3}}},
"y": {"field": "lead", "type": "nominal", "sort": ["I","II","III","aVR","aVL","aVF","V1","V2","V3","V4","V5","V6"], "scale": {"type": "point", "padding": 1.137, "align": 0.444},
"axis": {"orient": "left", "offset": -50, "title": null, "ticks": false, "domain": true, "domainColor": "#7a7a7a", "grid": false, "labelFontSize": 7.5, "labelColor": "#444444", "labelPadding": 1}},
"yOffset": {"field": "v", "type": "quantitative", "scale": {"domain": [-1, 1], "range": [10, -10]}},
"order": {"field": "t", "type": "quantitative"},
"detail": {"field": "lead"},
"color": {"field": "lead", "type": "nominal", "legend": null, "scale": {"domain": ["I","II","III","aVR","aVL","aVF","V1","V2","V3","V4","V5","V6"], "range": ["#9a9a9a","#9a9a9a","#9a9a9a","#9a9a9a","#9a9a9a","#9a9a9a","#9c9c9c","#9c9c9c","#a8a8a8","#bdbdbd","#a2a2a2","#9c9c9c"]}}
}
},
{
"data": {"values": [{"t": 8.66}]},
"mark": {"type": "rule", "opacity": 0},
"encoding": {"x": {"field": "t", "type": "quantitative",
"axis": {"orient": "top", "values": [0,1,2,3,4,5,6,7,8], "format": "02d", "ticks": false, "domain": false, "grid": false, "title": null, "labelPadding": -15, "labelFontSize": 6.5, "labelColor": "#666666", "labelBaseline": "bottom"}}}
},
{
"data": {"values": [{"t": 8.66}]},
"mark": {"type": "rule", "opacity": 0},
"encoding": {"x": {"field": "t", "type": "quantitative",
"axis": {"orient": "bottom", "offset": -10, "tickCount": 200, "labels": false, "domain": true, "domainColor": "#9a9a9a", "grid": false, "tickColor": "#9a9a9a", "tickWidth": 0.8,
"tickSize": {"condition": [{"test": "datum.value < -0.52", "value": 0}, {"test": "abs(datum.value - round(datum.value)) < 0.001", "value": -6}, {"test": "abs(datum.value*5 - round(datum.value*5)) < 0.001", "value": -4}], "value": -2},
"title": "Paper: ECG   Speed: 25 mm/s", "titleFontSize": 5.5, "titleFontWeight": "normal", "titleColor": "#666666", "titleAnchor": "start", "titleAlign": "left", "titleX": 0, "titleY": 4.5, "titleBaseline": "middle"}}}
}
],
"resolve": {"axis": {"x": "independent"}}
}
